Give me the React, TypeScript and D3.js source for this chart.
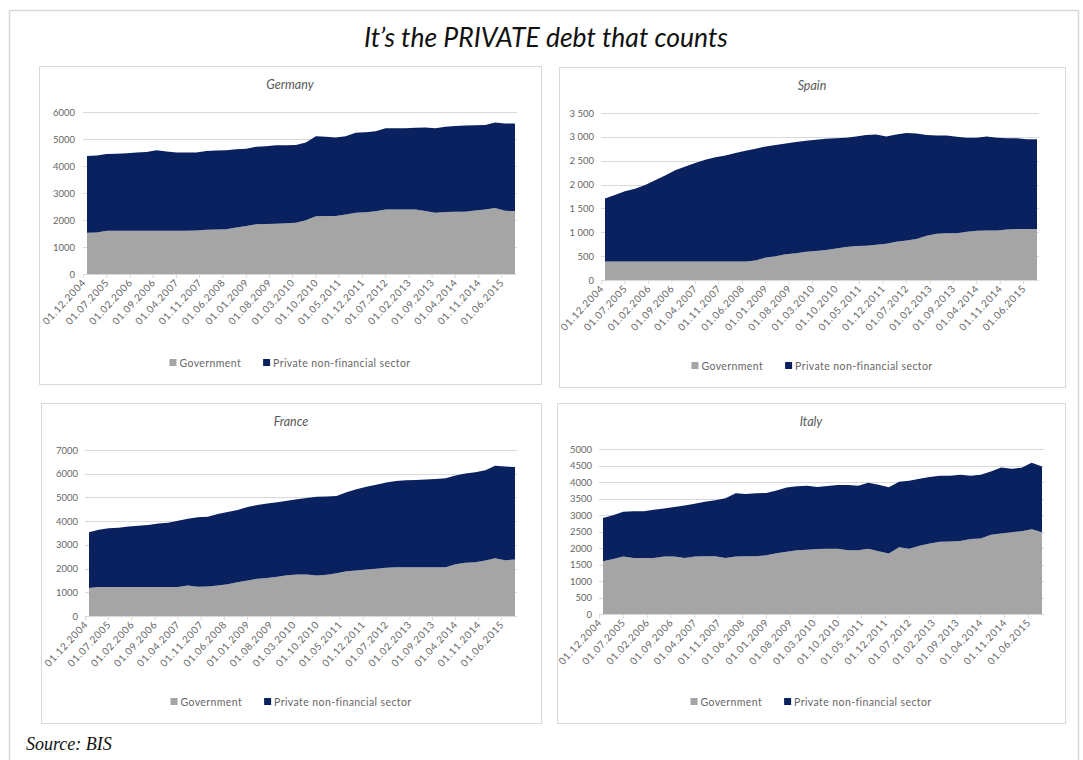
import React, { useEffect, useRef } from 'react';
import * as d3 from 'd3';

// quarterly values, Dec 2004 .. Dec 2015 (45 points), bn
const germanyGov = [1530, 1540, 1600, 1600, 1600, 1600, 1600, 1600, 1600, 1600, 1600, 1610, 1640, 1650, 1660, 1720, 1780, 1840, 1850, 1860, 1880, 1900, 1990, 2140, 2150, 2150, 2200, 2270, 2290, 2320, 2390, 2390, 2390, 2390, 2330, 2270, 2300, 2310, 2310, 2350, 2390, 2440, 2340, 2330, 2330];
const germanyPrivate = [2840, 2850, 2840, 2850, 2870, 2900, 2920, 2980, 2940, 2900, 2900, 2890, 2920, 2920, 2920, 2900, 2860, 2870, 2880, 2910, 2890, 2880, 2880, 2960, 2930, 2910, 2900, 2960, 2960, 2970, 3010, 3010, 3010, 3030, 3100, 3130, 3150, 3170, 3190, 3160, 3130, 3170, 3230, 3240, 3240];

const spainGov = [390, 390, 390, 390, 390, 390, 390, 390, 390, 390, 390, 390, 390, 390, 390, 410, 470, 500, 540, 560, 590, 610, 630, 660, 690, 710, 720, 740, 760, 800, 830, 860, 930, 970, 980, 980, 1010, 1030, 1040, 1040, 1060, 1070, 1070, 1070, 1070];
const spainPrivate = [1320, 1390, 1470, 1520, 1600, 1700, 1800, 1910, 1990, 2060, 2130, 2180, 2220, 2270, 2320, 2340, 2330, 2330, 2320, 2330, 2330, 2330, 2330, 2310, 2290, 2300, 2320, 2310, 2250, 2250, 2250, 2210, 2110, 2060, 2050, 2020, 1970, 1950, 1970, 1940, 1910, 1900, 1880, 1880, 1880];

const franceGov = [1180, 1220, 1220, 1220, 1220, 1220, 1220, 1220, 1220, 1220, 1290, 1230, 1240, 1290, 1340, 1420, 1500, 1570, 1600, 1650, 1720, 1750, 1750, 1710, 1740, 1800, 1890, 1920, 1960, 1990, 2030, 2060, 2060, 2060, 2060, 2060, 2060, 2180, 2250, 2270, 2340, 2440, 2350, 2380, 2380];
const francePrivate = [2350, 2420, 2480, 2500, 2550, 2590, 2620, 2680, 2710, 2800, 2810, 2930, 2950, 3010, 3050, 3050, 3100, 3110, 3140, 3150, 3140, 3170, 3230, 3320, 3300, 3260, 3330, 3420, 3490, 3540, 3600, 3630, 3660, 3680, 3700, 3720, 3750, 3740, 3760, 3790, 3810, 3900, 3950, 3900, 3890];

const italyGov = [1600, 1670, 1740, 1700, 1700, 1700, 1740, 1740, 1700, 1740, 1750, 1750, 1700, 1740, 1750, 1750, 1780, 1840, 1890, 1930, 1950, 1970, 1980, 1980, 1930, 1930, 1980, 1900, 1830, 2020, 1980, 2070, 2140, 2190, 2200, 2210, 2270, 2290, 2400, 2440, 2480, 2510, 2570, 2480, 2520];
const italyPrivate = [1310, 1320, 1360, 1410, 1410, 1460, 1460, 1500, 1590, 1600, 1650, 1700, 1810, 1920, 1890, 1910, 1890, 1900, 1940, 1940, 1940, 1880, 1900, 1930, 1980, 1960, 2000, 2020, 2010, 1990, 2060, 2030, 2010, 2000, 1990, 2010, 1920, 1930, 1920, 2000, 1920, 1920, 2010, 1990, 1980];

const tickLabels = ['01.12.2004', '01.07.2005', '01.02.2006', '01.09.2006', '01.04.2007', '01.11.2007', '01.06.2008', '01.01.2009', '01.08.2009', '01.03.2010', '01.10.2010', '01.05.2011', '01.12.2011', '01.07.2012', '01.02.2013', '01.09.2013', '01.04.2014', '01.11.2014', '01.06.2015'];
const seriesNames = ['Government', 'Private non-financial sector'];

const COLORS = ['#a5a5a5', '#0a215f'];
const FONT = 'Lato, "Open Sans", sans-serif';
const parseDate = d3.timeParse('%d.%m.%Y');
const quarters = d3.timeMonth.every(3)!.range(new Date(2004, 11, 1), new Date(2016, 0, 1));

const spaceFmt = d3.formatLocale({ decimal: ',', thousands: ' ', grouping: [3], currency: ['', ''] }).format(',');

const panels = [
  { title: 'Germany', gov: germanyGov, priv: germanyPrivate, box: [39, 66, 541, 384], x: [87, 515], y: [274, 112], max: 6000, step: 1000, labelX: 75, fmt: d3.format('d') },
  { title: 'Spain', gov: spainGov, priv: spainPrivate, box: [559, 67, 1065, 387], x: [605, 1037], y: [280, 113], max: 3500, step: 500, labelX: 594, fmt: spaceFmt },
  { title: 'France', gov: franceGov, priv: francePrivate, box: [41, 403, 541, 723], x: [89, 515], y: [616, 450], max: 7000, step: 1000, labelX: 78, fmt: d3.format('d') },
  { title: 'Italy', gov: italyGov, priv: italyPrivate, box: [557, 403, 1065, 723], x: [603, 1042], y: [614, 449], max: 5000, step: 500, labelX: 592, fmt: d3.format('d') },
];

const App: React.FC = () => {
  const svgRef = useRef<SVGSVGElement | null>(null);

  useEffect(() => {
    if (!svgRef.current) return;
    const svg = d3.select(svgRef.current);
    svg.selectAll('*').remove();

    // outer frame
    svg.append('path')
      .attr('d', 'M9.5,765 L9.5,10.5 L1078.5,10.5 L1078.5,765')
      .attr('fill', 'none')
      .attr('stroke', '#d6d6d6')
      .attr('stroke-width', 1.5);

    svg.append('text')
      .attr('x', 546)
      .attr('y', 47)
      .attr('text-anchor', 'middle')
      .attr('font-family', FONT)
      .attr('font-style', 'italic')
      .attr('font-size', 26.5)
      .attr('fill', '#111')
      .text('It\u2019s the PRIVATE debt that counts');

    panels.forEach(p => {
      const [bx0, by0, bx1, by1] = p.box;
      const g = svg.append('g');

      g.append('rect')
        .attr('x', bx0 + 0.5).attr('y', by0 + 0.5)
        .attr('width', bx1 - bx0).attr('height', by1 - by0)
        .attr('fill', '#fff')
        .attr('stroke', '#d9d9d9');

      g.append('text')
        .attr('x', (bx0 + bx1) / 2)
        .attr('y', by0 + 23)
        .attr('text-anchor', 'middle')
        .attr('font-family', FONT)
        .attr('font-style', 'italic')
        .attr('font-size', 12.5)
        .attr('fill', '#595959')
        .text(p.title);

      const x = d3.scaleTime()
        .domain([quarters[0], quarters[quarters.length - 1]])
        .range(p.x);
      const y = d3.scaleLinear().domain([0, p.max]).range(p.y);

      const yTicks = d3.range(0, p.max + 1, p.step);
      g.selectAll('.grid')
        .data(yTicks.filter(t => t > 0))
        .enter().append('line')
        .attr('x1', p.x[0] - 4).attr('x2', p.x[1] + 2)
        .attr('y1', d => Math.round(y(d)) + 0.5).attr('y2', d => Math.round(y(d)) + 0.5)
        .attr('stroke', '#d9d9d9');

      g.selectAll('.ylab')
        .data(yTicks)
        .enter().append('text')
        .attr('x', p.labelX)
        .attr('y', d => y(d) + 3.5)
        .attr('text-anchor', 'end')
        .attr('font-family', FONT)
        .attr('font-size', 9.5)
        .attr('fill', '#666')
        .text(d => p.fmt(d));

      const rows = quarters.map((d, i) => ({ date: d, gov: p.gov[i], priv: p.priv[i] }));
      const stack = d3.stack<any>().keys(['gov', 'priv'])(rows);
      const area = d3.area<any>()
        .x(d => x(d.data.date))
        .y0(d => y(d[0]))
        .y1(d => y(d[1]));

      g.selectAll('.layer')
        .data(stack)
        .enter().append('path')
        .attr('d', d => area(d as any) || '')
        .attr('fill', (_, i) => COLORS[i]);

      // x axis
      g.append('line')
        .attr('x1', p.x[0] - 4).attr('x2', p.x[1] + 2)
        .attr('y1', p.y[0] + 0.5).attr('y2', p.y[0] + 0.5)
        .attr('stroke', '#d9d9d9');

      tickLabels.forEach(lbl => {
        const tx = x(parseDate(lbl)!);
        g.append('line')
          .attr('x1', tx).attr('x2', tx)
          .attr('y1', p.y[0]).attr('y2', p.y[0] + 4)
          .attr('stroke', '#d9d9d9');
        g.append('text')
          .attr('transform', `translate(${tx + 3},${p.y[0] + 9}) rotate(-47)`)
          .attr('text-anchor', 'end')
          .attr('font-family', FONT)
          .attr('font-size', 10)
          .attr('letter-spacing', 0.7)
          .attr('fill', '#666')
          .text(lbl);
      });

      // legend
      const legend = g.append('g');
      const ly = by1 - 21;
      let cx = 0;
      seriesNames.forEach((name, i) => {
        legend.append('rect')
          .attr('x', cx).attr('y', ly - 4)
          .attr('width', 7).attr('height', 7)
          .attr('fill', COLORS[i]);
        const t = legend.append('text')
          .attr('x', cx + 10)
          .attr('y', ly + 3.5)
          .attr('font-family', FONT)
          .attr('font-size', 10.5)
          .attr('letter-spacing', 0.4)
          .attr('fill', '#666')
          .text(name);
        const w = (t.node() as SVGTextElement).getComputedTextLength();
        cx += 10 + w + 22;
      });
      const total = cx - 22;
      legend.attr('transform', `translate(${(bx0 + bx1) / 2 - total / 2},0)`);
    });

    svg.append('text')
      .attr('x', 26)
      .attr('y', 750)
      .attr('font-family', '"Liberation Serif", serif')
      .attr('font-style', 'italic')
      .attr('font-size', 18)
      .attr('fill', '#111')
      .text('Source: BIS');
  }, []);

  return (
    <svg
      ref={svgRef}
      width={1083}
      height={760}
      style={{ position: 'absolute', left: 0, top: 0, background: '#fff' }}
    />
  );
};

export default App;
